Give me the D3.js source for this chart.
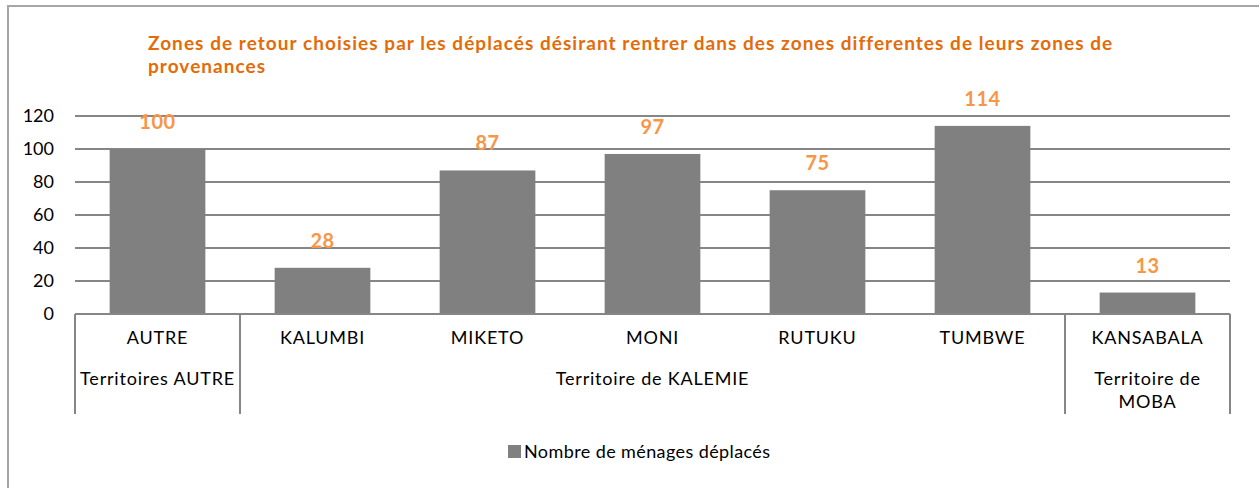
<!DOCTYPE html>
<html>
<head>
<meta charset="utf-8">
<script src="https://cdn.jsdelivr.net/npm/d3@7"></script>
<style>
body{margin:0;background:#fff;}
svg{display:block;}
</style>
</head>
<body>
<svg id="chart" width="1259" height="488"></svg>
<script>
const categories = ["AUTRE","KALUMBI","MIKETO","MONI","RUTUKU","TUMBWE","KANSABALA"];
const values = [100,28,87,97,75,114,13];
const groups = [
  {name:["Territoires AUTRE"], from:0, to:0},
  {name:["Territoire de KALEMIE"], from:1, to:5},
  {name:["Territoire de","MOBA"], from:6, to:6}
];
const yTicks = [0,20,40,60,80,100,120];
const title = ["Zones de retour choisies par les déplacés désirant rentrer dans des zones differentes de leurs zones de","provenances"];
const seriesName = "Nombre de ménages déplacés";

(function(){
const svg = d3.select("#chart");
const font = "Lato, 'Open Sans', sans-serif";
const pLeft = 75, pRight = 1230, pTop = 116, pBottom = 314;

// frame
svg.append("rect").attr("x",8).attr("y",6).attr("width",1270).attr("height",500)
  .attr("fill","none").attr("stroke","#a6a6a6").attr("stroke-width",2);

// title
svg.append("text").attr("x",148).attr("y",50).attr("fill","#E36C09")
  .attr("font-family",font).attr("font-weight","bold").attr("font-size",19)
  .attr("letter-spacing",1.05)
  .selectAll("tspan").data(title).join("tspan")
  .attr("x",148).attr("dy",(d,i)=>i===0?0:23).text(d=>d);

const x = d3.scaleBand().domain(categories).range([pLeft,pRight]).paddingInner(0.42).paddingOuter(0.21);
const xb = d3.scaleBand().domain(categories).range([pLeft,pRight]);
const y = d3.scaleLinear().domain([0,120]).range([pBottom,pTop]);

// gridlines
svg.append("g").selectAll("line").data(yTicks.filter(d=>d>0)).join("line")
  .attr("x1",pLeft).attr("x2",pRight).attr("y1",d=>y(d)).attr("y2",d=>y(d))
  .attr("stroke","#868686").attr("stroke-width",2);

// y axis labels
const yAxis = d3.axisLeft(y).tickValues(yTicks).tickSize(0).tickPadding(21);
const ya = svg.append("g").attr("transform",`translate(${pLeft},0)`).call(yAxis);
ya.select(".domain").remove();
ya.selectAll("text").attr("font-family",font).attr("font-size",18).attr("fill","#000").attr("dy","0.32em");

// bars
svg.append("g").selectAll("rect").data(values).join("rect")
  .attr("x",(d,i)=>x(categories[i])).attr("width",x.bandwidth())
  .attr("y",d=>y(d)).attr("height",d=>y(0)-y(d)).attr("fill","#808080");

// value labels
svg.append("g").selectAll("text").data(values).join("text")
  .attr("x",(d,i)=>xb(categories[i])+xb.bandwidth()/2).attr("y",d=>y(d)-20)
  .attr("text-anchor","middle").attr("fill","#F79646").attr("font-family",font)
  .attr("font-weight","bold").attr("font-size",20).attr("letter-spacing",0.5).text(d=>d);

// x axis baseline
svg.append("line").attr("x1",pLeft).attr("x2",pRight).attr("y1",pBottom).attr("y2",pBottom)
  .attr("stroke","#868686").attr("stroke-width",2);

// group separators
const seps = [pLeft];
groups.forEach(g=>seps.push(xb(categories[g.to])+xb.bandwidth()));
svg.append("g").selectAll("line").data(seps).join("line")
  .attr("x1",d=>d).attr("x2",d=>d).attr("y1",pBottom).attr("y2",414)
  .attr("stroke","#868686").attr("stroke-width",2);

// category labels
svg.append("g").selectAll("text").data(categories).join("text")
  .attr("x",d=>xb(d)+xb.bandwidth()/2).attr("y",344)
  .attr("text-anchor","middle").attr("font-family",font).attr("font-size",18).attr("letter-spacing",0.8).attr("fill","#000")
  .text(d=>d);

// group labels
const gl = svg.append("g").selectAll("text").data(groups).join("text")
  .attr("text-anchor","middle").attr("font-family",font).attr("font-size",18).attr("letter-spacing",0.8).attr("fill","#000")
  .attr("y",385);
gl.each(function(g){
  const cx = (xb(categories[g.from]) + xb(categories[g.to]) + xb.bandwidth())/2;
  d3.select(this).selectAll("tspan").data(g.name).join("tspan")
    .attr("x",cx).attr("dy",(d,i)=>i===0?0:23).text(d=>d);
});

// legend
svg.append("rect").attr("x",508).attr("y",445).attr("width",13).attr("height",13).attr("fill","#808080");
svg.append("text").attr("x",524).attr("y",458).attr("font-family",font).attr("font-size",18).attr("letter-spacing",0.4).attr("fill","#000").text(seriesName);
})();
</script>
</body>
</html>
